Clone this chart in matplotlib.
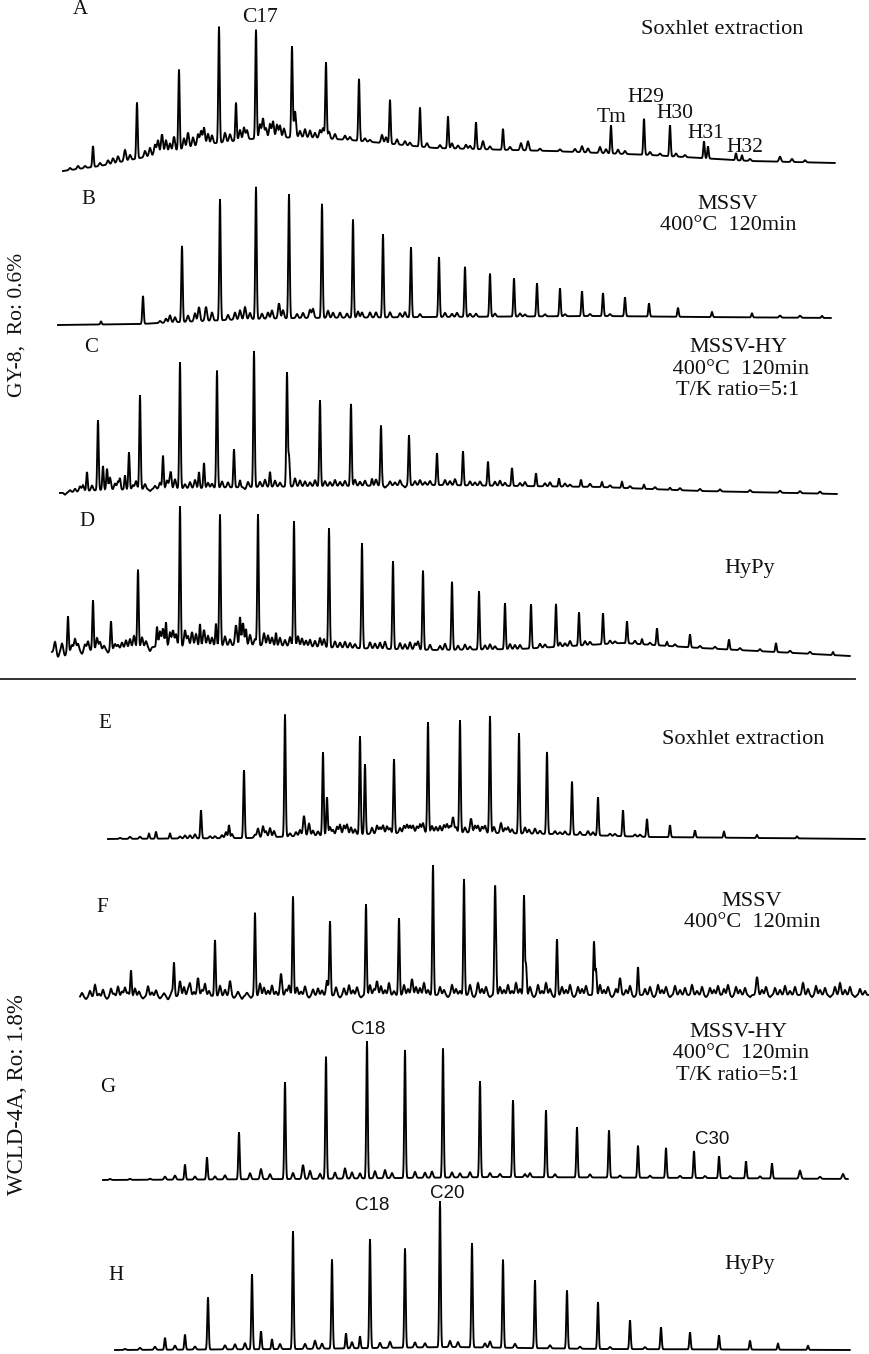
import numpy as np
import matplotlib
matplotlib.use("Agg")
import matplotlib.pyplot as plt

# peak lists: (position, height), pixel units
A_peaks = [(93, 21), (137, 56), (179, 80), (219, 116), (236, 38), (256, 109), (292, 91),
           (326, 76), (359, 62), (390, 44), (420, 39), (448, 32), (476, 27), (503, 21),
           (611, 28), (644, 36), (670, 31), (704, 17), (708, 12), (736, 7), (742, 5)]
A_minor = [(70, 2), (78, 3), (85, 2), (100, 3), (108, 4), (113, 5), (118, 6), (125, 11), (130, 5),
           (145, 6), (150, 8), (155, 10), (158, 14), (162, 19), (166, 12), (170, 8), (174, 14),
           (184, 10), (188, 15), (193, 9), (198, 11), (201, 14), (204, 17), (208, 10), (212, 8),
           (225, 9), (230, 7), (240, 10), (244, 12), (247, 9), (260, 14), (263, 20), (266, 10),
           (270, 14), (273, 17), (277, 13), (280, 12), (284, 9), (295, 26), (300, 6), (305, 8),
           (310, 7), (315, 5), (320, 8), (323, 10), (329, 7), (335, 5), (345, 4), (350, 3),
           (365, 3), (370, 2), (382, 8), (386, 6), (397, 5), (405, 4), (410, 3), (427, 4),
           (440, 3), (452, 5), (458, 3), (466, 4), (470, 3), (483, 8), (490, 3), (510, 3),
           (521, 7), (528, 9), (540, 2), (560, 2), (575, 3), (582, 6), (588, 4), (600, 6),
           (606, 4), (618, 4), (625, 3), (650, 3), (660, 2), (676, 3), (685, 2), (750, 2),
           (780, 5), (792, 3), (805, 2)]
A_base = [(63, 171), (100, 166), (150, 156), (200, 145), (250, 139), (300, 137), (350, 140),
          (435, 148), (550, 151), (650, 155), (750, 161), (835, 163)]

B_peaks = [(101, 3), (143, 28), (182, 76), (220, 121), (256, 132), (289, 124), (322, 114),
           (353, 98), (383, 83), (411, 70), (439, 60), (465, 50), (490, 43), (514, 38),
           (537, 33), (560, 28), (582, 25), (603, 23), (625, 19), (649, 13), (678, 9),
           (712, 5), (752, 4), (822, 2)]
B_minor = [(160, 2), (166, 4), (170, 7), (175, 5), (188, 6), (195, 8), (199, 14), (206, 14),
           (212, 8), (228, 5), (235, 7), (240, 9), (245, 12), (250, 6), (262, 5), (268, 6),
           (272, 8), (279, 15), (283, 8), (297, 4), (303, 5), (310, 8), (313, 9), (328, 7),
           (333, 5), (340, 5), (347, 4), (358, 6), (362, 5), (370, 5), (376, 5), (390, 5),
           (400, 4), (405, 5), (420, 3), (445, 4), (452, 3), (457, 4), (470, 3), (476, 3),
           (495, 3), (520, 3), (525, 2), (545, 2), (565, 2), (590, 2), (610, 2), (780, 2), (800, 2)]
B_base = [(58, 325), (140, 324), (180, 322), (250, 319), (300, 318), (435, 317), (600, 316),
          (700, 317), (831, 318)]

C_peaks = [(87, 19), (98, 70), (103, 24), (107, 21), (120, 10), (125, 14), (129, 37), (140, 94),
           (163, 33), (171, 10), (180, 126), (199, 16), (204, 25), (217, 117), (234, 38),
           (240, 7), (254, 136), (270, 15), (287, 114), (289, 30), (320, 86), (351, 82),
           (372, 7), (381, 60), (409, 50), (437, 32), (463, 34), (488, 24), (512, 18),
           (536, 13), (559, 8), (581, 7), (602, 5), (622, 6), (644, 4), (670, 2)]
C_minor = [(65, -2), (70, 2), (75, 3), (80, 5), (83, 6), (92, 5), (110, 12), (115, 6), (118, 8),
           (133, 4), (136, 8), (145, 5), (150, -2), (155, 3), (160, 6), (167, 8), (170, 10),
           (175, 9), (185, 4), (190, 6), (195, 8), (208, 5), (212, 4), (222, 6), (228, 5),
           (245, -2), (248, 5), (260, 5), (265, 7), (275, 6), (280, 4), (295, 8), (300, 6),
           (305, 5), (310, 4), (315, 6), (325, 5), (330, 4), (335, 6), (340, 4), (345, 5),
           (355, 6), (360, 4), (365, 5), (376, 6), (385, -2), (390, 4), (395, 3), (400, 5),
           (405, -2), (415, 4), (420, 5), (425, 3), (430, 4), (445, 5), (450, 4), (455, 6),
           (470, 4), (475, 3), (480, 4), (495, 4), (500, 5), (505, 3), (520, 3), (525, 4),
           (545, 3), (550, 4), (565, 3), (570, 2), (590, 3), (610, 2), (630, 2), (655, 2),
           (680, 2), (700, 2), (720, 2), (750, 2), (780, 2), (800, 2), (820, 2)]
C_base = [(60, 493), (100, 490), (150, 489), (250, 487), (435, 485), (600, 487), (700, 491),
          (837, 494)]

D_peaks = [(68, 35), (93, 50), (111, 28), (138, 78), (157, 20), (166, 24), (180, 140), (200, 22),
           (216, 22), (220, 131), (240, 28), (246, 16), (258, 131), (276, 13), (294, 125),
           (329, 119), (362, 105), (393, 88), (423, 79), (452, 68), (479, 58), (505, 46),
           (531, 44), (556, 43), (579, 33), (603, 31), (627, 22), (642, 5), (657, 17),
           (667, 4), (690, 13), (729, 10), (776, 9), (833, 3)]
D_minor = [(55, 10), (58, -5), (62, 8), (65, -4), (72, 6), (75, 12), (78, 7), (82, -3), (85, 6),
           (88, 9), (97, 12), (100, 8), (104, 4), (108, -3), (115, 5), (118, 4), (122, 6),
           (126, 8), (130, 9), (134, 12), (142, 10), (146, 6), (150, -4), (160, 15), (163, 18),
           (170, 14), (173, 16), (176, 12), (185, 16), (188, 10), (192, 14), (196, 12),
           (204, 16), (208, 10), (212, 8), (225, 9), (230, 6), (236, 20), (243, 22), (250, 10),
           (255, 6), (264, 12), (268, 10), (272, 8), (280, 8), (285, 6), (290, 9), (298, 10),
           (302, 8), (306, 6), (310, 7), (315, 6), (320, 9), (324, 8), (335, 6), (340, 5),
           (345, 6), (350, 5), (355, 4), (370, 6), (375, 5), (380, 6), (385, 7), (400, 6),
           (405, 5), (410, 7), (415, 6), (418, 8), (430, 5), (440, 4), (445, 6), (458, 4),
           (465, 5), (470, 3), (485, 4), (490, 5), (495, 3), (510, 5), (515, 4), (520, 4),
           (540, 4), (545, 3), (560, 4), (565, 3), (570, 5), (585, 4), (590, 3), (610, 3),
           (615, 2), (635, 3), (650, 2), (675, 2), (700, 2), (715, 2), (740, 2), (760, 2),
           (790, 2), (810, 2)]
D_base = [(52, 652), (100, 650), (150, 647), (250, 645), (350, 648), (435, 650), (520, 649),
          (622, 643), (700, 648), (850, 656)]

E_peaks = [(149, 5), (156, 7), (170, 5), (201, 28), (229, 13), (244, 68), (285, 122), (323, 83),
           (327, 38), (360, 98), (365, 70), (394, 74), (428, 110), (460, 112), (490, 117),
           (519, 100), (547, 82), (572, 53), (598, 38), (623, 26), (647, 18), (670, 12),
           (695, 7), (724, 6), (757, 3), (797, 2)]
E_minor = [(120, 1), (130, 2), (140, 2), (180, 2), (185, 3), (190, 3), (195, 4), (210, 2),
           (215, 2), (222, 3), (226, 6), (232, 4), (255, 3), (258, 9), (263, 11), (266, 6),
           (270, 9), (274, 6), (290, 3), (296, 4), (300, 6), (304, 20), (309, 12), (313, 5),
           (318, 4), (330, 8), (333, 5), (337, 8), (340, 10), (344, 9), (347, 10), (351, 7),
           (355, 5), (372, 6), (377, 8), (380, 6), (383, 8), (387, 7), (390, 5), (400, 5),
           (404, 7), (407, 8), (410, 7), (413, 7), (417, 6), (420, 8), (423, 9), (432, 6),
           (436, 5), (440, 6), (444, 7), (447, 8), (450, 6), (453, 15), (456, 5), (465, 5),
           (471, 14), (475, 7), (478, 7), (482, 6), (485, 7), (494, 6), (501, 10), (505, 5),
           (508, 6), (512, 4), (525, 6), (529, 4), (535, 5), (540, 3), (555, 3), (560, 2),
           (565, 3), (580, 3), (588, 4), (593, 3), (610, 2), (615, 2), (635, 2), (640, 2)]
E_base = [(108, 839), (250, 838), (300, 836), (400, 833), (435, 832), (550, 834), (650, 837),
          (865, 839)]

F_peaks = [(131, 26), (174, 33), (215, 56), (255, 83), (293, 99), (330, 74), (366, 91), (399, 77),
           (433, 130), (464, 116), (495, 98), (496, 30), (524, 99), (526, 30), (557, 56),
           (594, 53), (596, 25), (638, 28)]
F_minor = [(82, 4), (86, -2), (90, 6), (95, 12), (99, 3), (103, 7), (107, -2), (111, 8), (114, 3),
           (118, 10), (122, 5), (125, 9), (128, 4), (135, 8), (139, 5), (143, -2), (148, 10),
           (152, 4), (156, 6), (160, -2), (164, 3), (168, -3), (172, 5), (180, 15), (184, 9),
           (188, 6), (190, 12), (194, 4), (198, 18), (202, 6), (205, 12), (209, 5), (220, 10),
           (225, 6), (230, 15), (234, -2), (238, 4), (242, -3), (247, 3), (251, -2), (260, 12),
           (264, 8), (268, 5), (272, 10), (276, 4), (281, 22), (286, 6), (289, 10), (297, 8),
           (301, 4), (305, 9), (309, -2), (313, 6), (318, 7), (322, 5), (327, 15), (336, 8),
           (340, -2), (344, 7), (349, 10), (353, 5), (357, 8), (361, -2), (370, 10), (374, 6),
           (377, 14), (381, 9), (385, 5), (389, 12), (394, 4), (404, 10), (408, 6), (412, 16),
           (416, 8), (420, 7), (424, 12), (428, 5), (440, 8), (444, 5), (448, -2), (452, 10),
           (456, 6), (460, 4), (470, 10), (474, -2), (478, 12), (482, 6), (486, 8), (490, -2),
           (500, 8), (504, 5), (508, 10), (512, 4), (516, 12), (520, 6), (530, 8), (534, -2),
           (538, 10), (542, 4), (546, 12), (550, 6), (554, -2), (562, 8), (566, 5), (570, 10),
           (574, -2), (578, 8), (582, 6), (586, 9), (600, 10), (604, 5), (608, 8), (612, -2),
           (616, 6), (620, 17), (626, 5), (630, 9), (634, -2), (645, 6), (650, 8), (654, -2),
           (658, 10), (662, 5), (666, 8), (670, -2), (675, 9), (680, 5), (685, 7), (692, 10),
           (697, 4), (702, 8), (706, -2), (710, 7), (714, 5), (718, 9), (724, 6), (728, 10),
           (732, -2), (736, 8), (740, 5), (745, 7), (750, -2), (757, 18), (762, 5), (766, 8),
           (770, -2), (775, 7), (780, 5), (785, 9), (790, 4), (795, 8), (803, 12), (808, 6),
           (812, -2), (816, 9), (820, 5), (825, 7), (830, -2), (835, 8), (840, 12), (845, 5),
           (850, 8), (855, -2), (860, 6), (865, 4)]
F_base = [(80, 997), (200, 996), (435, 995), (600, 995), (870, 995)]

G_peaks = [(185, 15), (207, 22), (239, 47), (285, 97), (326, 122), (367, 137), (405, 128),
           (443, 129), (480, 96), (513, 77), (546, 67), (577, 50), (609, 47), (638, 32),
           (666, 30), (694, 27), (719, 22), (746, 17), (772, 15)]
G_minor = [(110, 1), (130, 1), (150, 1), (165, 3), (175, 4), (195, 3), (215, 3), (225, 4),
           (250, 6), (261, 10), (270, 5), (293, 6), (303, 14), (310, 8), (320, 5), (335, 6),
           (345, 10), (352, 6), (360, 5), (375, 7), (385, 8), (392, 5), (415, 6), (425, 5),
           (432, 6), (452, 5), (460, 4), (470, 5), (490, 4), (500, 3), (525, 3), (530, 4),
           (555, 3), (590, 3), (620, 2), (650, 2), (680, 2), (705, 2), (730, 2), (760, 2),
           (800, 8), (820, 2), (843, 5)]
G_base = [(103, 1180), (300, 1179), (500, 1177), (700, 1178), (848, 1179)]

H_peaks = [(165, 12), (185, 15), (208, 52), (252, 75), (261, 18), (272, 10), (293, 118),
           (332, 89), (346, 15), (360, 12), (370, 109), (405, 99), (440, 146), (472, 104),
           (503, 88), (535, 68), (567, 58), (598, 47), (630, 29), (661, 22), (690, 17),
           (719, 14), (750, 9), (778, 6), (808, 4)]
H_minor = [(125, 1), (140, 2), (155, 3), (175, 4), (195, 3), (225, 4), (235, 5), (245, 6),
           (280, 5), (305, 5), (315, 8), (322, 5), (352, 6), (380, 5), (390, 6), (415, 5),
           (425, 4), (450, 6), (458, 5), (485, 4), (490, 6), (515, 4), (550, 3), (580, 2),
           (610, 2), (645, 2)]
H_base = [(115, 1350), (300, 1349), (450, 1347), (600, 1349), (850, 1350)]

panels = [
    (A_peaks, A_minor, A_base),
    (B_peaks, B_minor, B_base),
    (C_peaks, C_minor, C_base),
    (D_peaks, D_minor, D_base),
    (E_peaks, E_minor, E_base),
    (F_peaks, F_minor, F_base),
    (G_peaks, G_minor, G_base),
    (H_peaks, H_minor, H_base),
]

letters = ["A", "B", "C", "D", "E", "F", "G", "H"]
letter_pos = [(80, 10), (88, 200), (91, 347), (87, 522), (105, 723), (102, 907), (108, 1087), (116, 1275)]

methods = ["Soxhlet extraction", "MSSV\n400°C  120min", "MSSV-HY\n 400°C  120min\nT/K ratio=5:1", "HyPy",
           "Soxhlet extraction", "MSSV\n400°C  120min", "MSSV-HY\n 400°C  120min\nT/K ratio=5:1", "HyPy"]
method_pos = [(722, 29), (728, 215), (738, 369), (750, 568), (743, 739), (752, 912), (738, 1054), (750, 1265)]

peak_tags = [("C17", 260, 18), ("Tm", 612, 118), ("H29", 646, 97), ("H30", 675, 114),
             ("H31", 706, 133), ("H32", 745, 147)]
peak_tags_sans = [("C18", 368, 1030), ("C30", 712, 1140), ("C18", 372, 1205), ("C20", 447, 1193)]

serif = "Liberation Serif"
sans = "Liberation Sans"


def chromatogram(peaks, minor, base):
    bx = [p[0] for p in base]
    by = [p[1] for p in base]
    x = np.arange(bx[0], bx[-1], 0.25)
    sig = np.zeros_like(x)
    for pos, h in peaks:
        sig += h * np.exp(-0.5 * ((x - pos) / 0.7) ** 2)
    for pos, h in minor:
        sig += h * np.exp(-0.5 * ((x - pos) / 1.0) ** 2)
    return x, np.interp(x, bx, by) - sig


fig = plt.figure(figsize=(8.7, 13.54), dpi=100)
ax = fig.add_axes([0, 0, 1, 1])
ax.set_xlim(0, 870)
ax.set_ylim(1354, 0)
ax.axis("off")

for (pk, mn, bs) in panels:
    x, y = chromatogram(pk, mn, bs)
    ax.plot(x, y, color="black", lw=1.35, solid_joinstyle="miter")

for lab, (lx, ly) in zip(letters, letter_pos):
    ax.text(lx, ly, lab, family=serif, fontsize=15, ha="center", va="center", color="#111")

for lab, (lx, ly) in zip(methods, method_pos):
    ax.text(lx, ly, lab, family=serif, fontsize=16, ha="center", va="center",
            linespacing=1.2, color="#111")

for lab, lx, ly in peak_tags:
    ax.text(lx, ly, lab, family=serif, fontsize=15.5, ha="center", va="center", color="#111")
for lab, lx, ly in peak_tags_sans:
    ax.text(lx, ly, lab, family=sans, fontsize=13.5, ha="center", va="center", color="#111")

ax.text(17, 325, "GY-8,  Ro: 0.6%", family=serif, fontsize=15.5, rotation=90,
        ha="center", va="center", color="#111")
ax.text(18, 1095, "WCLD-4A, Ro: 1.8%", family=serif, fontsize=16.5, rotation=90,
        ha="center", va="center", color="#111")

ax.plot([0, 855], [679, 679], color="#333333", lw=1.4)

fig.savefig("out.png", dpi=100)
